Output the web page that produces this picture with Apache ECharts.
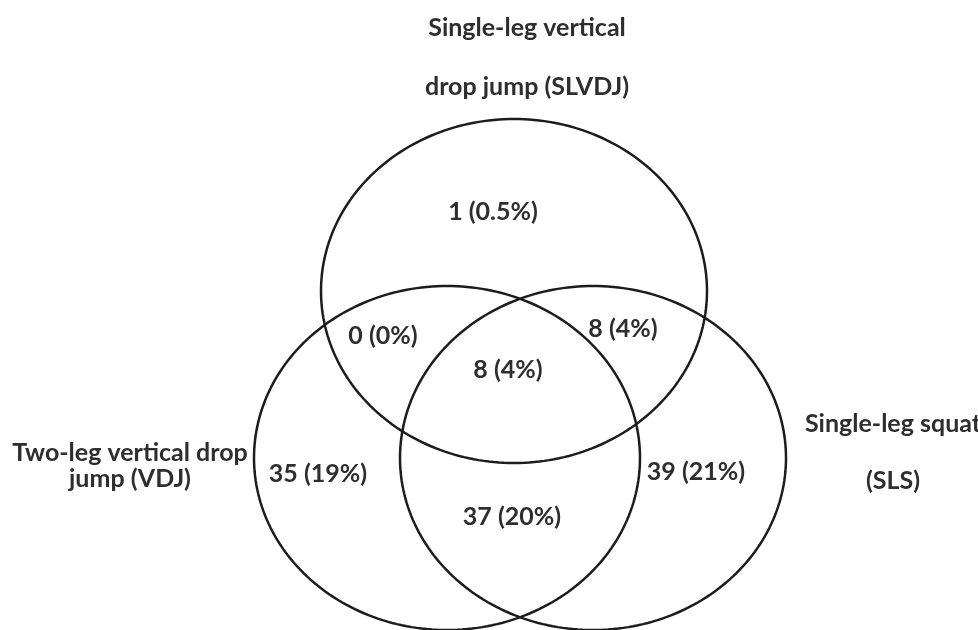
<!DOCTYPE html>
<html><head><meta charset="utf-8">
<script src="https://cdn.jsdelivr.net/npm/echarts@6/dist/echarts.min.js"></script>
<style>html,body{margin:0;padding:0;background:#fff}#c{width:978px;height:630px}</style>
</head><body><div id="c"></div>
<script>
// ---- data ----
const setNames = ['Single-leg vertical\ndrop jump (SLVDJ)', 'Two-leg vertical drop\njump (VDJ)', 'Single-leg squat\n(SLS)'];
const regionNames = ['SLVDJ only', 'SLVDJ ∩ VDJ', 'SLVDJ ∩ SLS', 'All three', 'VDJ only', 'SLS only', 'VDJ ∩ SLS'];
const regionCounts = [1, 0, 8, 8, 35, 39, 37];
const regionPercents = ['0.5%', '0%', '4%', '4%', '19%', '21%', '20%'];

// ---- layout (diagram space, 978 x 630) ----
const setCenters = [[514, 291], [447, 458], [593, 458]];
const setRadii = [193, 172];
const setLabelAnchors = [[527, 57.5], [130, 465.5], [893, 452.5]];
const setLabelLineHeights = [59, 26, 57];
const regionAnchors = [[493, 212], [383, 336], [623, 329], [508, 370], [318, 474], [696, 472], [512, 517]];

const FONT = 'bold 25px Lato, "Open Sans", sans-serif';
const TXT = '#2e2e2e';

const chart = echarts.init(document.getElementById('c'), null, {renderer: 'canvas'});

const circleData = setCenters.map((c, i) => ({name: setNames[i], value: [c[0], c[1]]}));
const regionData = regionAnchors.map((p, i) => ({name: regionNames[i], value: [p[0], p[1], regionCounts[i]]}));
const setLabelData = setLabelAnchors.map((p, i) => ({name: setNames[i], value: [p[0], p[1], i]}));

chart.setOption({
  animation: false,
  backgroundColor: '#ffffff',
  grid: {left: 0, right: 0, top: 0, bottom: 0},
  xAxis: {type: 'value', min: 0, max: 978, show: false},
  yAxis: {type: 'value', min: 0, max: 630, inverse: true, show: false},
  series: [
    {
      type: 'custom',
      name: 'sets',
      clip: false,
      data: circleData,
      renderItem: function (params, api) {
        const cx = api.value(0), cy = api.value(1);
        const pts = [];
        for (let k = 0; k < 240; k++) {
          const t = k / 240 * Math.PI * 2;
          pts.push(api.coord([cx + setRadii[0] * Math.cos(t), cy + setRadii[1] * Math.sin(t)]));
        }
        return {
          type: 'polygon',
          shape: {points: pts},
          style: {fill: 'none', stroke: '#1c1c1c', lineWidth: 2.5}
        };
      }
    },
    {
      type: 'custom',
      name: 'regions',
      data: regionData,
      renderItem: function (params, api) {
        const p = api.coord([api.value(0), api.value(1)]);
        const i = params.dataIndex;
        return {
          type: 'text',
          x: p[0], y: p[1],
          style: {
            text: regionCounts[i] + ' (' + regionPercents[i] + ')',
            font: FONT, fill: TXT, align: 'center', verticalAlign: 'middle'
          }
        };
      }
    },
    {
      type: 'custom',
      name: 'setLabels',
      clip: false,
      data: setLabelData,
      renderItem: function (params, api) {
        const p = api.coord([api.value(0), api.value(1)]);
        const i = params.dataIndex;
        return {
          type: 'text',
          x: p[0], y: p[1],
          style: {
            text: setNames[i],
            font: FONT, fill: TXT, align: 'center', verticalAlign: 'middle',
            lineHeight: setLabelLineHeights[i]
          }
        };
      }
    }
  ]
});
</script>
</body></html>
